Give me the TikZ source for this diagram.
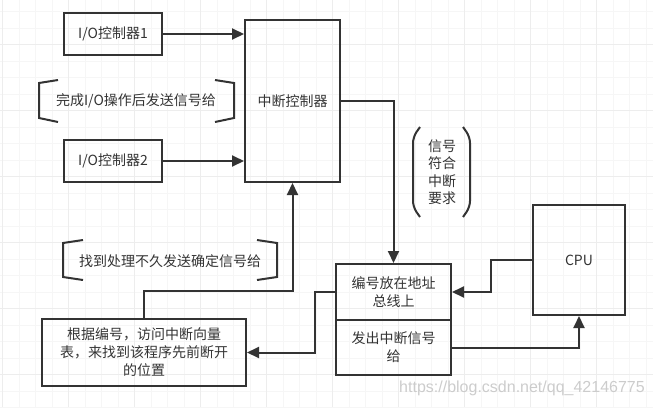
\documentclass[tikz,border=0pt]{standalone}
\usepackage{fontspec}
\setmainfont{Noto Sans CJK SC}
\newfontfamily\markfont{Liberation Sans}
\usepackage{xcolor}
\definecolor{LINECOLOR}{HTML}{333333}
\colorlet{GRIDMINOR}{gray!7}
\colorlet{GRIDMAJOR}{gray!14}
\usetikzlibrary{arrows.meta,positioning,calc}
\tikzset{
  box-style/.style 2 args = {
    rectangle, draw=LINECOLOR, line width=2pt,
    text=LINECOLOR,
    minimum width=#1,
    minimum height=#2,
    inner sep=0pt, align=center,
    font=\fontsize{14}{18}\selectfont
  },
  note-style/.style = {
    text=LINECOLOR, inner sep=0pt, align=center,
    font=\fontsize{14}{17.5}\selectfont
  },
  bracket-style/.style = {
    draw=LINECOLOR, line width=2pt
  },
  link-style/.style = {
    draw=LINECOLOR, line width=2pt,
    -{Triangle[length=12pt,width=11pt]}
  },
  grid-minor/.style = {draw=GRIDMINOR, line width=1pt},
  grid-major/.style = {draw=GRIDMAJOR, line width=1pt},
  mark-style/.style = {
    text=gray!40, inner sep=0pt,
    font=\markfont\fontsize{16}{16}\selectfont
  }
}
\begin{document}
\begin{tikzpicture}[x=1pt,y=-1pt]
  \useasboundingbox (0,0) rectangle (653,407);
  % grid
  \foreach \i in {0,...,39} \draw[grid-minor] ({2.5+16.5*\i},0) -- ++(0,407);
  \foreach \i in {0,...,24} \draw[grid-minor] (0,{11.7+16.5*\i}) -- ++(653,0);
  \foreach \i in {0,...,9} \draw[grid-major] ({2.5+66*\i},0) -- ++(0,407);
  \foreach \i in {0,...,5} \draw[grid-major] (0,{44.7+66*\i}) -- ++(653,0);

  \node[box-style={98pt}{42pt}] (io1) at (113,34) {I/O控制器1};
  \node[box-style={98pt}{42pt}] (io2) at (113,161) {I/O控制器2};
  \node[box-style={95pt}{162pt}] (ctrl) at (292.5,101) {中断控制器};
  \node[box-style={115pt}{56pt}] (addr) at (393.5,292) {编号放在地址\\总线上};
  \node[box-style={115pt}{55pt}] (send) at (393.5,347.5) {发出中断信号\\给};
  \node[box-style={92pt}{110pt}] (cpu) at (579,260) {CPU};
  \node[box-style={204pt}{67pt}] (vec) at (144,352.5)
    {根据编号，访问中断向量\\表，来找到该程序先前断开\\的位置};

  \node[note-style] (done) at (136,101) {完成I/O操作后发送信号给};
  \node[note-style] (found) at (170,261) {找到处理不久发送确定信号给};
  \node[note-style] (match) at (442,172) {信号\\符合\\中断\\要求};

  \draw[bracket-style] (58,80) -- (39,83) -- (39,118) -- (58,122);
  \draw[bracket-style] (215,80) -- (234,83) -- (234,118) -- (215,122);
  \draw[bracket-style] (83,240) -- (63,243) -- (63,277) -- (83,280);
  \draw[bracket-style] (257,240) -- (277,243) -- (277,277) -- (257,280);
  \draw[bracket-style, rounded corners=6pt] (420,127) -- (413,137) -- (413,207) -- (420,217);
  \draw[bracket-style, rounded corners=6pt] (463,127) -- (470,137) -- (470,207) -- (463,217);

  \draw[link-style] (io1.east) -- (io1.east -| ctrl.west);
  \draw[link-style] (io2.east) -- (io2.east -| ctrl.west);
  \draw[link-style] (ctrl.east) -| (addr.north);
  \draw[link-style] (cpu.west) -- ++(-41,0) |- (addr.east);
  \draw[link-style] (send.east) -| (cpu.south);
  \draw[link-style] (addr.west) -- ++(-20,0) |- (vec.east);
  \draw[link-style] (vec.north) -- ++(0,-27) -| (ctrl.south);

  \node[mark-style] (mark) at (522,388) {https://blog.csdn.net/qq\_42146775};
\end{tikzpicture}
\end{document}
